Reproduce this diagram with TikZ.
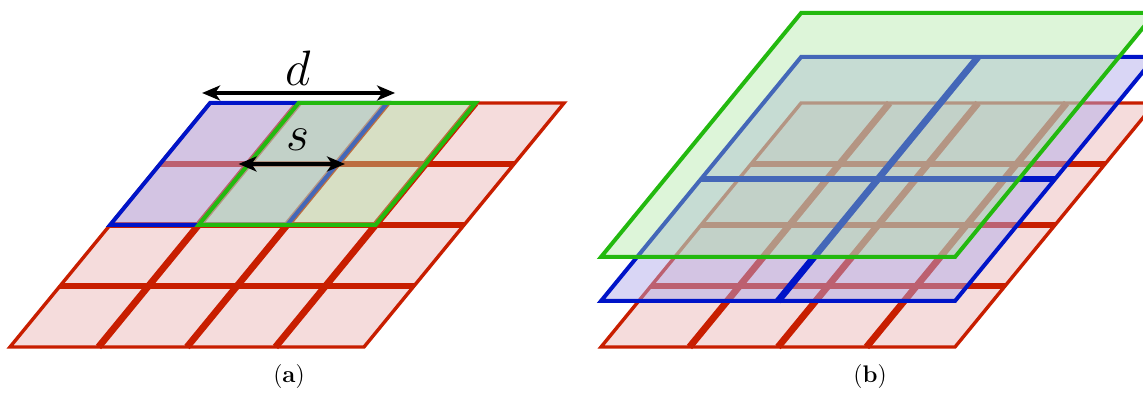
\documentclass[tikz,border=0pt]{standalone}
\usepackage{xcolor}
\usepackage{tikz}
\usetikzlibrary{arrows.meta, positioning}

\definecolor{gridred}{RGB}{200,30,0}
\definecolor{gridpink}{RGB}{245,220,220}
\definecolor{poolblue}{RGB}{0,20,200}
\definecolor{poolbluefill}{RGB}{175,170,235}
\definecolor{poolgreen}{RGB}{35,185,15}
\definecolor{poolgreenfill}{RGB}{170,229,160}

\begin{document}
\begin{tikzpicture}[
    x=0.5pt, y=0.5pt,
    layer/.style={shift={#1}, xslant=0.82, x=44.25pt, y=30.5pt},
    mapfill/.style={fill=gridpink},
    redinner/.style={draw=gridred, line width=3.4pt},
    redborder/.style={draw=gridred, line width=1.7pt},
    blueinner/.style={draw=poolblue, line width=3.4pt},
    bluepool/.style={draw=poolblue, line width=2pt, fill=poolbluefill, fill opacity=0.48},
    greenpool/.style={draw=poolgreen, line width=2pt, fill=poolgreenfill, fill opacity=0.4},
    dimarrow/.style={arrows={Stealth[length=9pt,width=7.5pt,inset=2.5pt]-Stealth[length=9pt,width=7.5pt,inset=2.5pt]}, line width=1.7pt},
    dimlabel/.style={font=\fontsize{34}{38}\selectfont, inner sep=2pt},
    caption/.style={font=\fontsize{12}{14}\selectfont}
]
    \useasboundingbox (0,0) rectangle (1143,-394);
    \clip (0,0) rectangle (1143,-394);

    % red 4x4 feature maps, one for each panel
    \foreach \ox in {10,601} {
        \begin{scope}[layer={(\ox,-347)}]
            \fill[mapfill] (0,0) rectangle (4,4);
            \foreach \i in {1,2,3} {
                \draw[redinner] (\i,0) -- (\i,4);
                \draw[redinner] (0,\i) -- (4,\i);
            }
            \draw[redborder] (0,0) rectangle (4,4);
        \end{scope}
    }

    % (a) window of size d, shifted by stride s
    \begin{scope}[layer={(10,-347)}]
        \filldraw[bluepool] (0,2) rectangle (2,4);
        \filldraw[greenpool] (1,2) rectangle (3,4);
        \coordinate (dstart) at (0,4);
        \coordinate (dend) at (2,4);
        \coordinate (sstart) at (1,3);
        \coordinate (send) at (2,3);
    \end{scope}

    \draw[dimarrow] ([shift={(-4pt,5pt)}]dstart) -- node[dimlabel, above=1pt] (dlabel) {$d$} ([shift={(4pt,5pt)}]dend);
    \draw[dimarrow] ([xshift=-5pt]sstart) -- node[dimlabel, above=4pt, xshift=3pt] (slabel) {$s$} ([xshift=4pt]send);

    % (b) stacked layers
    \begin{scope}[layer={(601,-301)}]
        \fill[bluepool, draw=none] (0,0) rectangle (4,4);
        \draw[blueinner] (2,0) -- (2,4);
        \draw[blueinner] (0,2) -- (4,2);
        \draw[bluepool, fill=none] (0,0) rectangle (4,4);
    \end{scope}
    \begin{scope}[layer={(601,-257)}]
        \filldraw[greenpool] (0,0) rectangle (4,4);
    \end{scope}

    \node[caption] (capa) at (289,-377) {(\textbf{a})};
    \node[caption] (capb) at (870,-377) {(\textbf{b})};
\end{tikzpicture}
\end{document}
